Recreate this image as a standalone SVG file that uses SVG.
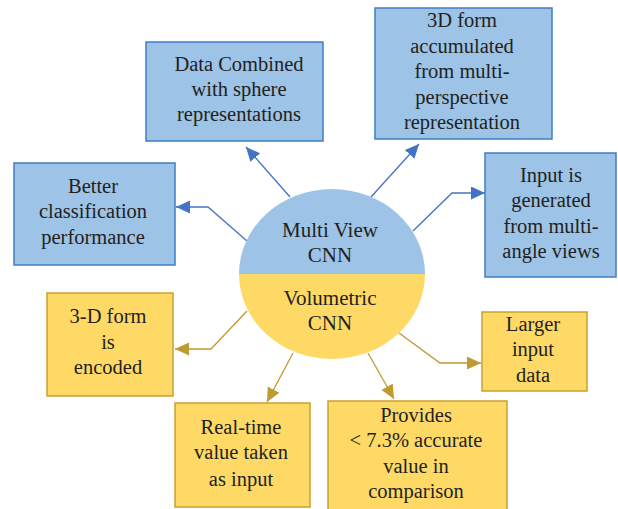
<svg xmlns="http://www.w3.org/2000/svg" width="618" height="509" viewBox="0 0 618 509">
<style>
text{font-family:"Liberation Serif","Times New Roman",serif;font-size:20.5px;fill:#231F20;text-anchor:middle}
.c{font-size:21px}
.bb{fill:#9DC3E6;stroke:#3F7FC1;stroke-width:1.5}
.yb{fill:#FFD966;stroke:#C9A032;stroke-width:1.5}
.bl{fill:none;stroke:#4472C4;stroke-width:1.3}
.yl{fill:none;stroke:#BF9A30;stroke-width:1.3}
</style>
<defs>
<marker id="ab" markerUnits="userSpaceOnUse" markerWidth="16" markerHeight="14" refX="14" refY="6.5" orient="auto"><path d="M0,0 L14,6.5 L0,13 Z" fill="#4472C4"/></marker>
<marker id="ay" markerUnits="userSpaceOnUse" markerWidth="16" markerHeight="14" refX="14" refY="6.5" orient="auto"><path d="M0,0 L14,6.5 L0,13 Z" fill="#BF9A30"/></marker>
</defs>
<g id="connectors">
<polyline class="bl" points="290,197 246,147" marker-end="url(#ab)"/>
<polyline class="bl" points="371,197 419,144" marker-end="url(#ab)"/>
<polyline class="bl" points="247,241 208,207 176,207" marker-end="url(#ab)"/>
<polyline class="bl" points="413,231 452,193 485,193" marker-end="url(#ab)"/>
<polyline class="yl" points="247,311 211,349 175,349" marker-end="url(#ay)"/>
<polyline class="yl" points="399,333 440,363 481,363" marker-end="url(#ay)"/>
<polyline class="yl" points="293,353 267,402" marker-end="url(#ay)"/>
<polyline class="yl" points="368,353 394,399" marker-end="url(#ay)"/>
</g>
<g id="center">
<path d="M239,274 A93,85 0 0 1 425,274 Z" fill="#9DC3E6"/>
<path d="M239,274 A93,85 0 0 0 425,274 Z" fill="#FFD966"/>
<text class="c" x="330" y="237">Multi View</text>
<text class="c" x="330" y="262">CNN</text>
<text class="c" x="330" y="305">Volumetric</text>
<text class="c" x="330" y="330">CNN</text>
</g>
<g id="n-data">
<rect class="bb" x="146" y="42" width="177" height="99"/>
<text x="239" y="71">Data Combined</text>
<text x="239" y="96">with sphere</text>
<text x="239" y="121">representations</text>
</g>
<g id="n-3d">
<rect class="bb" x="375" y="8" width="177" height="131"/>
<text x="462" y="27">3D form</text>
<text x="462" y="53">accumulated</text>
<text x="462" y="78">from multi-</text>
<text x="462" y="104">perspective</text>
<text x="462" y="129">representation</text>
</g>
<g id="n-better">
<rect class="bb" x="14" y="163" width="161" height="102"/>
<text x="93" y="193">Better</text>
<text x="93" y="218">classification</text>
<text x="93" y="244">performance</text>
</g>
<g id="n-input">
<rect class="bb" x="485" y="153" width="131" height="124"/>
<text x="551" y="182">Input is</text>
<text x="551" y="207">generated</text>
<text x="551" y="233">from multi-</text>
<text x="551" y="258">angle views</text>
</g>
<g id="n-encoded">
<rect class="yb" x="47" y="293" width="126" height="103"/>
<text x="108" y="323">3-D form</text>
<text x="108" y="349">is</text>
<text x="108" y="374">encoded</text>
</g>
<g id="n-larger">
<rect class="yb" x="482" y="312" width="105" height="79"/>
<text x="533" y="331">Larger</text>
<text x="533" y="356">input</text>
<text x="533" y="382">data</text>
</g>
<g id="n-realtime">
<rect class="yb" x="175" y="403" width="135" height="104"/>
<text x="241" y="434">Real-time</text>
<text x="241" y="459">value taken</text>
<text x="241" y="486">as input</text>
</g>
<g id="n-provides">
<rect class="yb" x="328" y="401" width="179" height="110"/>
<text x="416" y="422">Provides</text>
<text x="416" y="447">&lt; 7.3% accurate</text>
<text x="416" y="473">value in</text>
<text x="416" y="498">comparison</text>
</g>
</svg>
